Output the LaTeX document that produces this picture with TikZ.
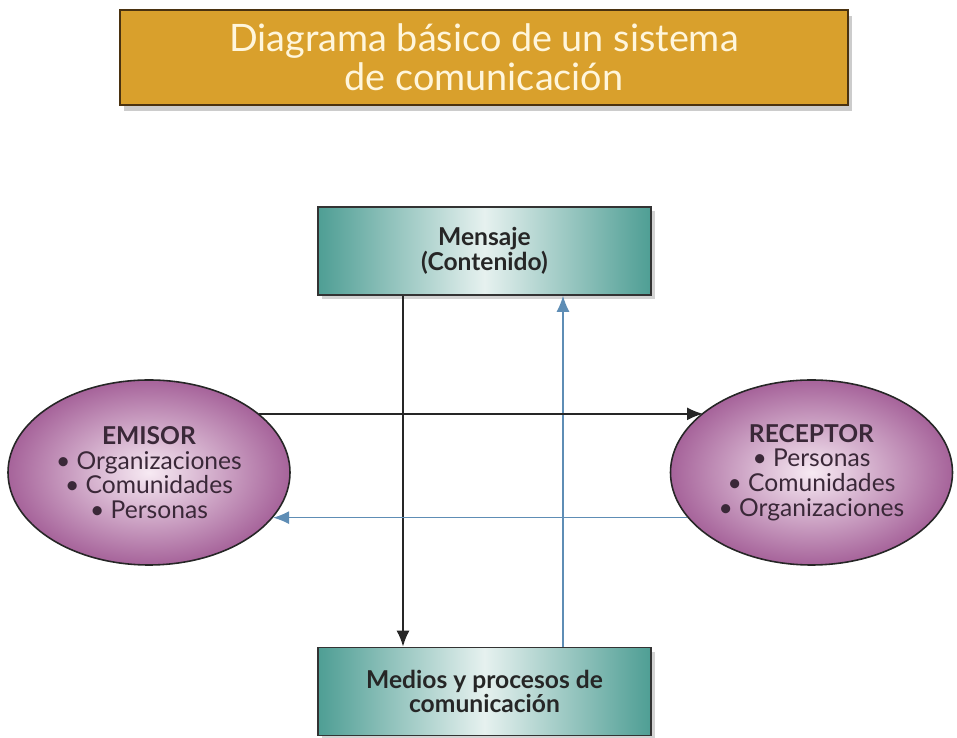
\documentclass[tikz,border=0pt]{standalone}
\usepackage{fontspec}
\setmainfont{Lato}
\usepackage{xcolor}
\usetikzlibrary{shapes.geometric, arrows.meta, positioning, calc, shadows}

\definecolor{goldFill}{HTML}{D9A02C}
\definecolor{goldEdge}{HTML}{4A3210}
\definecolor{creamText}{HTML}{FFF6DC}
\definecolor{tealDark}{HTML}{4E9E94}
\definecolor{tealLight}{HTML}{E6F1EF}
\definecolor{plumDark}{HTML}{A6639A}
\definecolor{plumLight}{HTML}{F7EAF3}
\definecolor{plumText}{HTML}{3A2838}
\definecolor{arrowBlue}{HTML}{5E8DB5}

\begin{document}
\begin{tikzpicture}[
    % ── boxes ──
    titleBox/.style = {draw=goldEdge, fill=goldFill, line width=0.9pt,
                       minimum width=14.56cm, minimum height=1.9cm,
                       drop shadow={shadow xshift=0.5ex, shadow yshift=-0.7ex,
                                    opacity=0.4}},
    tealBox/.style  = {draw=black!80, line width=0.9pt,
                       left color=tealDark, right color=tealDark,
                       middle color=tealLight,
                       minimum width=6.66cm, minimum height=1.76cm,
                       drop shadow={shadow xshift=0.4ex, shadow yshift=-0.5ex,
                                    opacity=0.35}},
    plumEll/.style  = {ellipse, draw=black!85, line width=0.9pt,
                       inner color=plumLight, outer color=plumDark,
                       minimum width=5.64cm, minimum height=3.7cm},
    % ── arrows ──
    arrBlack/.style = {-{Latex[length=3.2mm, width=2.6mm]}, line width=1.1pt,
                       black!85},
    arrBlue/.style  = {-{Latex[length=3.2mm, width=2.6mm]}, line width=0.8pt,
                       arrowBlue},
    % ── text styles ──
    titleLabel/.style = {font=\fontsize{21.5}{22}\selectfont, text=creamText,
                         align=center},
    boxLabel/.style   = {font=\fontsize{14}{14}\selectfont\bfseries,
                         text=black!85, align=center},
    ellLabel/.style   = {font=\fontsize{14}{14}\selectfont,
                         text=plumText, align=center},
]

\useasboundingbox (0,0) rectangle (19.14,14.76);

% =====================================================================
% Title
% =====================================================================
\node[titleBox, titleLabel] (title) at (9.68,13.61)
  {Diagrama básico de un sistema\\de comunicación};

% =====================================================================
% Mensaje / Medios boxes
% =====================================================================
\node[tealBox, boxLabel] (mensaje) at (9.69,9.74)
  {Mensaje\\(Contenido)};
\node[tealBox, boxLabel] (medios) at (9.69,0.93)
  {Medios y procesos de\\comunicación};

% =====================================================================
% Emisor / Receptor ellipses
% =====================================================================
\node[plumEll, ellLabel] (emisor) at (2.98,5.31)
  {\textbf{EMISOR}\\• Organizaciones\\• Comunidades\\• Personas};
\node[plumEll, ellLabel] (receptor) at (16.23,5.31)
  {\textbf{RECEPTOR}\\• Personas\\• Comunidades\\• Organizaciones};

% =====================================================================
% Connectors
% =====================================================================
\coordinate (downX) at (8.06,0);
\coordinate (upX)   at (11.26,0);

\draw[arrBlack] (downX |- mensaje.south) -- (downX |- medios.north);
\draw[arrBlue]  (upX |- medios.north) -- (upX |- mensaje.south);

\draw[arrBlack] (emisor.28.5) -- (receptor.151.5 |- emisor.28.5);
\draw[arrBlue]  (receptor.200.7) -- (emisor.-20.7 |- receptor.200.7);

\end{tikzpicture}
\end{document}
